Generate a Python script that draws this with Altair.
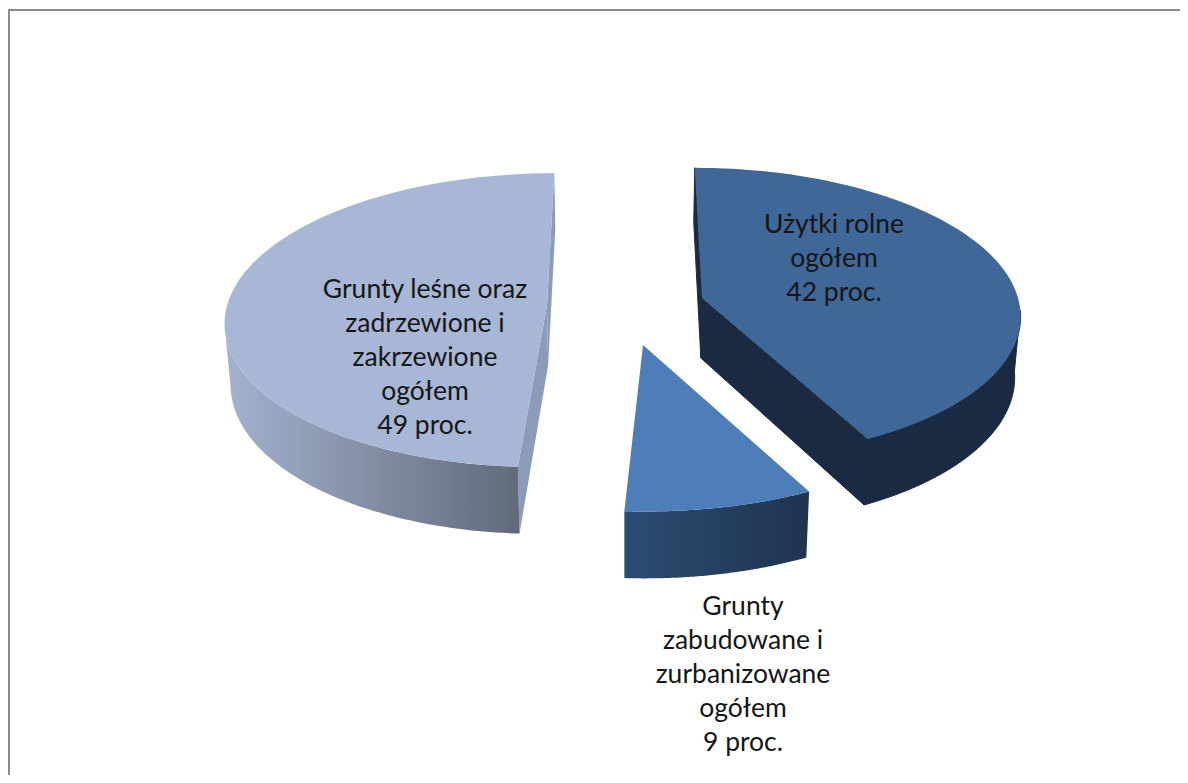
import math
import altair as alt

# Data
names = ["Użytki rolne", "Grunty zabudowane", "Grunty leśne"]
shares = [42.5, 8.4, 49.1]  # geometric share of the full turn, clockwise from the top
labels = [
    "Użytki rolne\nogółem\n42 proc.",
    "Grunty\nzabudowane i\nzurbanizowane\nogółem\n9 proc.",
    "Grunty leśne oraz\nzadrzewione i\nzakrzewione\nogółem\n49 proc.",
]

# Layout of the exploded perspective pie (page pixels)
VX = 625.0
RX, RY = 316.0, 143.6
PERSP = 0.103
DEPTH = 60.0
BOTTOM_SHRINK = 0.985
APEX = [(702.0, 298.0), (643.0, 345.0), (547.0, 305.0)]
SCALE = [1.0, 1.04, 1.012]
WALL_FROM = [95.0, None, 262.0]  # where the outer wall comes into view
LABEL_POS = [(834.0, 225.0), (743.0, 607.0), (425.0, 290.0)]  # centre of the first line

TOP_COL = ["#3F6797", "#4D7EBA", "#A7B7D5"]
FONT = "Lato"
FONT_SIZE = 26.5
OX, OY = 8, 8  # page margin
W, H = 1172, 767


def pt(i, theta, bottom=False):
    t = math.radians(theta)
    ax, ay = APEX[i]
    s = 1 / (1 + PERSP * math.cos(t))
    x = VX + (ax - VX + RX * SCALE[i] * math.sin(t)) * s
    y = ay - RY * SCALE[i] * math.cos(t) * s
    if bottom:
        x = VX + (x - VX) * BOTTOM_SHRINK
        y += DEPTH * s
    return [x - OX, y - OY]


def pt_apex(i, bottom):
    ax, ay = APEX[i]
    x, y = ax, ay
    if bottom:
        x = VX + (x - VX) * BOTTOM_SHRINK
        y += DEPTH
    return [x - OX, y - OY]


def arc(i, a, b, bottom=False, n=80):
    return [pt(i, a + (b - a) * k / n, bottom) for k in range(n + 1)]


def poly(points):
    ring = list(points) + [points[0]]
    return {"type": "Feature", "properties": {},
            "geometry": {"type": "Polygon", "coordinates": [ring]}}


def strip(x0, y0, x1, y1):
    return poly([[x0, y0], [x1, y0], [x1, y1], [x0, y1]])


def shape(feature, fill, edge=None):
    if edge:
        mark = alt.Chart(alt.Data(values=[feature])).mark_geoshape(fill=fill, stroke=edge, strokeWidth=1)
    else:
        mark = alt.Chart(alt.Data(values=[feature])).mark_geoshape(fill=fill, stroke=None)
    return mark


def hgrad(c0, c1):
    return alt.Gradient(gradient="linear", x1=0, y1=0, x2=1, y2=0,
                        stops=[alt.GradientStop(offset=0, color=c0),
                               alt.GradientStop(offset=1, color=c1)])


# slice angle ranges
bounds = []
acc = 0.0
for v in shares:
    bounds.append((acc, acc + v * 3.6))
    acc += v * 3.6

layers = []

# frame lines
layers.append(shape(strip(0, 1, W, 3), "#8A8A8A"))
layers.append(shape(strip(0, 1, 2, H), "#8A8A8A"))

# light slice (forest)
i = 2
a, b = bounds[i]
layers.append(shape(poly([pt_apex(i, False), pt(i, a), pt(i, a, True), pt_apex(i, True)]), "#8C9CB8"))
layers.append(shape(poly([pt_apex(i, False), pt(i, b), pt(i, b, True), pt_apex(i, True)]), "#8C9CB8"))
layers.append(shape(poly(arc(i, a, WALL_FROM[i]) + arc(i, a, WALL_FROM[i], True)[::-1]),
                    hgrad("#A3B2CF", "#626A7A")))
layers.append(shape(poly([pt_apex(i, False)] + arc(i, a, b)), TOP_COL[i]))

# dark slice (farmland)
i = 0
a, b = bounds[i]
DARK = "#1A2A42"
layers.append(shape(poly([pt_apex(i, False), pt(i, a), pt(i, a, True), pt_apex(i, True)]), DARK, DARK))
layers.append(shape(poly([pt_apex(i, False), pt(i, b), pt(i, b, True), pt_apex(i, True)]), DARK, DARK))
layers.append(shape(poly(arc(i, WALL_FROM[i], b) + arc(i, WALL_FROM[i], b, True)[::-1]), DARK, DARK))
layers.append(shape(poly([pt_apex(i, False)] + arc(i, a, b)), TOP_COL[i]))

# blue slice (built-up)
i = 1
a, b = bounds[i]
layers.append(shape(poly(arc(i, a, b) + arc(i, a, b, True)[::-1]), hgrad("#2C4C72", "#1F344F")))
layers.append(shape(poly([pt_apex(i, False)] + arc(i, a, b)), TOP_COL[i]))

# labels
rows = [{"name": n, "label": l, "lon": p[0] - OX, "lat": p[1] - OY}
        for n, l, p in zip(names, labels, LABEL_POS)]
text = alt.Chart(alt.Data(values=rows)).mark_text(
    font=FONT, fontSize=FONT_SIZE, color="#161616", lineBreak="\n", lineHeight=34,
    align="center", baseline="middle",
).encode(longitude="lon:Q", latitude="lat:Q", text="label:N")
layers.append(text)

chart = (
    alt.layer(*layers)
    .project(type="identity", scale=1, translate=[0, 0])
    .properties(width=W, height=H, padding=0, autosize=alt.AutoSizeParams(type="none"),
                background="white")
    .configure_view(stroke=None)
)

chart.save("out.html", embed_options={"renderer": "svg", "actions": False})
